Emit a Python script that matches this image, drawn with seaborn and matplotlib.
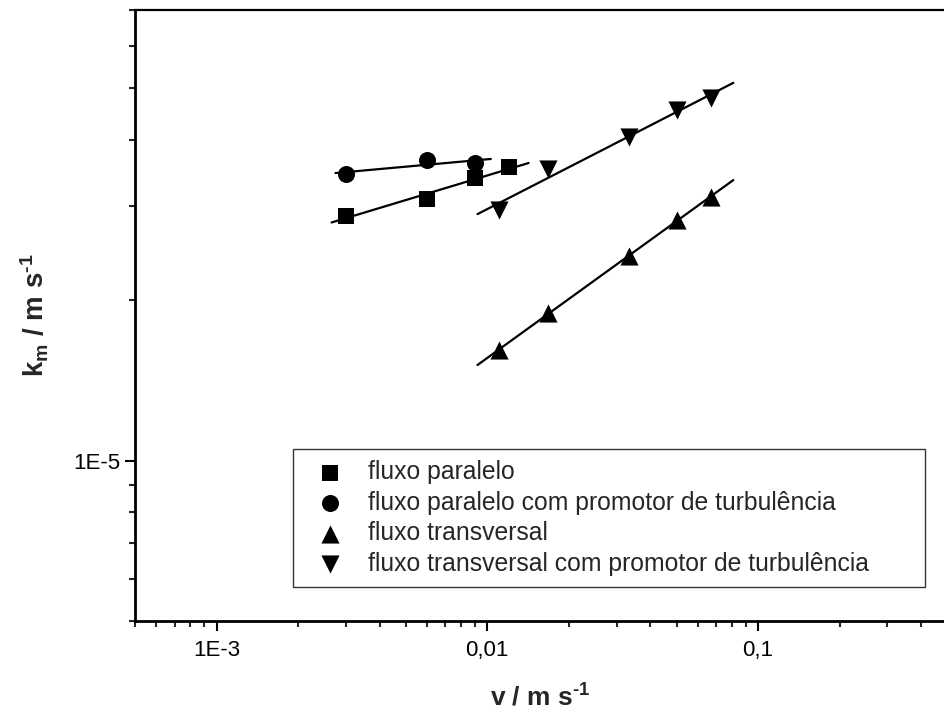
import numpy as np
import matplotlib
matplotlib.use("Agg")
import matplotlib.pyplot as plt
from matplotlib.ticker import LogLocator, NullFormatter, FixedLocator, FixedFormatter
import seaborn as sns

# data (v in m/s, km in m/s)
v_par = [0.003, 0.006, 0.009, 0.012]
km_par = [2.88e-5, 3.09e-5, 3.39e-5, 3.55e-5]

v_par_prom = [0.003, 0.006, 0.009]
km_par_prom = [3.45e-5, 3.66e-5, 3.61e-5]

v_trans = [0.011, 0.0168, 0.0335, 0.050, 0.067]
km_trans = [1.61e-5, 1.89e-5, 2.42e-5, 2.83e-5, 3.12e-5]

v_trans_prom = [0.011, 0.0168, 0.0335, 0.050, 0.067]
km_trans_prom = [2.95e-5, 3.52e-5, 4.05e-5, 4.55e-5, 4.79e-5]

# x range covered by each fitted line
fit_par = [0.00266, 0.0142]
fit_par_prom = [0.00275, 0.0103]
fit_trans = [0.0092, 0.081]
fit_trans_prom = [0.0092, 0.081]

labels = ["fluxo paralelo",
          "fluxo paralelo com promotor de turbulência",
          "fluxo transversal",
          "fluxo transversal com promotor de turbulência"]

xtick_vals = [1e-3, 1e-2, 1e-1]
xtick_labels = ["1E-3", "0,01", "0,1"]
ytick_vals = [1e-5]
ytick_labels = ["1E-5"]

sns.set_style("ticks")
plt.rcParams['font.family'] = ['Liberation Sans', 'DejaVu Sans']
plt.rcParams['mathtext.fontset'] = 'custom'
plt.rcParams['mathtext.rm'] = 'Liberation Sans:bold'
plt.rcParams['mathtext.bf'] = 'Liberation Sans:bold'
plt.rcParams['mathtext.default'] = 'bf'

fig = plt.figure(figsize=(9.45, 7.19), dpi=100)
ax = fig.add_axes([135 / 945, 1 - 621 / 719, 810 / 945, 611 / 719])


def power_fit(x, y, xr):
    slope, icpt = np.polyfit(np.log10(x), np.log10(y), 1)
    xr = np.array(xr)
    return xr, 10 ** (icpt + slope * np.log10(xr))


series = [
    (v_par, km_par, fit_par, 's', 130),
    (v_par_prom, km_par_prom, fit_par_prom, 'o', 150),
    (v_trans, km_trans, fit_trans, '^', 170),
    (v_trans_prom, km_trans_prom, fit_trans_prom, 'v', 170),
]

for (x, y, xr, mk, sz), lab in zip(series, labels):
    xf, yf = power_fit(x, y, xr)
    sns.lineplot(x=xf, y=yf, color='black', linewidth=1.6, ax=ax, zorder=2)
    sns.scatterplot(x=x, y=y, marker=mk, s=sz, color='black', edgecolor='black',
                    linewidth=0, ax=ax, label=lab, zorder=3)

ax.set_xscale('log')
ax.set_yscale('log')
ax.set_xlim(5.0e-4, 0.49)
ax.set_ylim(5.0e-6, 7.0e-5)

ax.xaxis.set_major_locator(FixedLocator(xtick_vals))
ax.xaxis.set_major_formatter(FixedFormatter(xtick_labels))
ax.yaxis.set_major_locator(FixedLocator(ytick_vals))
ax.yaxis.set_major_formatter(FixedFormatter(ytick_labels))
ax.xaxis.set_minor_locator(LogLocator(base=10, subs=np.arange(2, 10), numticks=20))
ax.yaxis.set_minor_locator(LogLocator(base=10, subs=np.arange(2, 10), numticks=20))
ax.xaxis.set_minor_formatter(NullFormatter())
ax.yaxis.set_minor_formatter(NullFormatter())

ax.tick_params(which='major', direction='out', length=7.5, width=1.5,
               labelsize=16, colors='black')
ax.tick_params(axis='x', which='major', pad=6)
ax.tick_params(axis='y', which='major', pad=3)
ax.tick_params(which='minor', direction='out', length=4.5, width=1.5)
ax.tick_params(top=False, right=False, which='both')

for side in ['left', 'bottom']:
    ax.spines[side].set_linewidth(2.0)
ax.spines['top'].set_linewidth(1.6)
ax.spines['right'].set_visible(False)
for sp in ax.spines.values():
    sp.set_color('black')

ax.set_xlabel(r'v / m s$^{\text{-1}}$', fontsize=19, fontweight='bold', labelpad=17)
ax.set_ylabel(r'k$_{m}$ / m s$^{\text{-1}}$', fontsize=20, fontweight='bold', labelpad=16)

leg = ax.legend(loc='lower left', bbox_to_anchor=(0.195, 0.056, 0.78, 0.227),
                mode='expand', fontsize=17.8, frameon=True, fancybox=False,
                edgecolor='black', borderpad=0.45, handlelength=2.1,
                handletextpad=0.5, labelspacing=0.26, borderaxespad=0)
leg.get_frame().set_linewidth(1.0)

fig.savefig('out.png', dpi=100)
